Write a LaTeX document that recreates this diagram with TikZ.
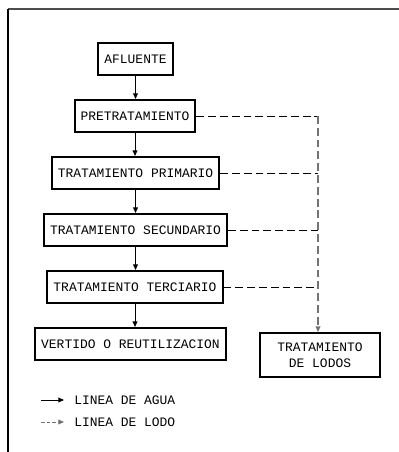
\documentclass[tikz,border=0pt]{standalone}
\usepackage{fontspec}
\setmainfont{Liberation Mono}
\usetikzlibrary{arrows.meta}

\tikzset{
  etapa/.style={draw,line width=1.4pt,inner xsep=0.15cm,minimum height=0.8cm,
    font=\fontsize{9.2}{11}\selectfont},
  agua/.style={line width=0.7pt,-{Triangle[length=4pt,width=3.4pt]}},
  lodo/.style={line width=0.7pt,dash pattern=on 5.6pt off 2.8pt},
  leyenda/.style={anchor=west,inner sep=0pt,font=\fontsize{9.2}{11}\selectfont}
}

\begin{document}
\begin{tikzpicture}[x=0.025cm,y=-0.025cm]
  \useasboundingbox (0,0) rectangle (399,452);

  % marco
  \draw[line width=1.1pt,black!70] (8,9) -- (399,9);
  \draw[line width=1.1pt] (8,9) -- (8,452);

  \node[etapa] (afluente) at (135.5,59) {AFLUENTE};
  \node[etapa] (pretrat) at (135,116) {PRETRATAMIENTO};
  \node[etapa] (primario) at (135.5,173) {TRATAMIENTO PRIMARIO};
  \node[etapa] (secundario) at (135.5,230) {TRATAMIENTO SECUNDARIO};
  \node[etapa] (terciario) at (135,287) {TRATAMIENTO TERCIARIO};
  \node[etapa] (vertido) at (130.5,344) {VERTIDO O REUTILIZACION};
  \node[etapa,align=center,minimum width=3cm,minimum height=1.1cm] (lodos) at (320,355)
    {TRATAMIENTO\\DE LODOS};

  \coordinate (l1) at (318,116);
  \coordinate (l2) at (318,173);
  \coordinate (l3) at (318,230);
  \coordinate (l4) at (318,287);

  % linea de agua
  \draw[agua] (afluente.south) -- (afluente.south |- pretrat.north);
  \draw[agua] (pretrat.south) -- (pretrat.south |- primario.north);
  \draw[agua] (primario.south) -- (primario.south |- secundario.north);
  \draw[agua] (secundario.south) -- (secundario.south |- terciario.north);
  \draw[agua] (terciario.south) -- (terciario.south |- vertido.north);

  % linea de lodo
  \draw[lodo] (pretrat.east) -- (l1);
  \draw[lodo] (primario.east) -- (l2);
  \draw[lodo] (secundario.east) -- (l3);
  \draw[lodo] (terciario.east) -- (l4);
  \draw[lodo,line width=1pt,black!55,-{Triangle[length=4pt,width=3.4pt]}] (l1) -- (l1 |- lodos.north);

  % leyenda
  \coordinate (a1) at (41,400);
  \coordinate (a2) at (64,400);
  \coordinate (b1) at (41,422);
  \coordinate (b2) at (64,422);
  \draw[agua] (a1) -- (a2);
  \draw[lodo,black!55,-{Triangle[length=4pt,width=3.4pt]},dash pattern=on 2.5pt off 1.5pt] (b1) -- (b2);
  \node[leyenda] (tagua) at (74,400) {LINEA DE AGUA};
  \node[leyenda] (tlodo) at (74,422) {LINEA DE LODO};
\end{tikzpicture}
\end{document}
